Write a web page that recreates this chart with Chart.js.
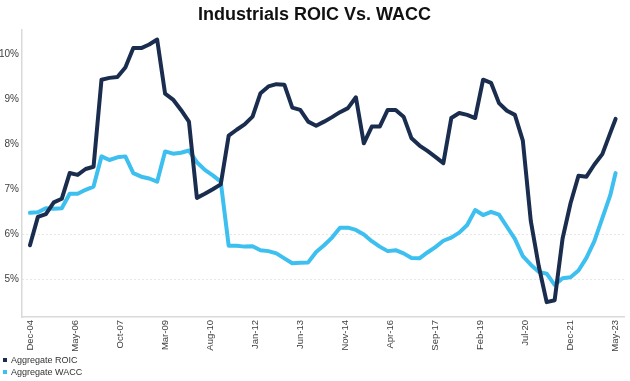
<!DOCTYPE html>
<html>
<head>
<meta charset="utf-8">
<script src="https://cdn.jsdelivr.net/npm/chart.js@4.4.0/dist/chart.umd.min.js"></script>
<style>
  html, body { margin: 0; padding: 0; background: #fff; }
  #wrap { position: relative; width: 630px; height: 381px; }
  #legend { position: absolute; left: 3px; top: 354px; font: 9px "Liberation Sans", Arial, sans-serif; color: #333; }
  #legend div { height: 12px; line-height: 12px; white-space: nowrap; }
  #legend span { display: inline-block; width: 4px; height: 4px; margin-right: 4px; vertical-align: middle; position: relative; top: -1px; }
</style>
</head>
<body>
<div id="wrap"><canvas id="chart" width="630" height="381"></canvas><div id="legend"></div></div>
<script>
// months counted from Dec-04 (0), quarterly, last point May-23
const months = [0, 3, 6, 9, 12, 15, 18, 21, 24, 27, 30, 33, 36, 39, 42, 45, 48, 51, 54, 57,
  60, 63, 66, 69, 72, 75, 78, 81, 84, 87, 90, 93, 96, 99, 102, 105, 108, 111, 114, 117,
  120, 123, 126, 129, 132, 135, 138, 141, 144, 147, 150, 153, 156, 159, 162, 165, 168, 171, 174, 177,
  180, 183, 186, 189, 192, 195, 198, 201, 204, 207, 210, 213, 216, 219, 221];

const roic = [5.76, 6.39, 6.45, 6.71, 6.79, 7.36, 7.32, 7.45, 7.50, 9.43, 9.47, 9.49, 9.70, 10.13, 10.13, 10.21, 10.32, 9.12, 8.99, 8.76,
  8.50, 6.81, 6.90, 7.00, 7.11, 8.19, 8.32, 8.44, 8.61, 9.13, 9.28, 9.33, 9.32, 8.81, 8.76, 8.50, 8.41, 8.50, 8.60, 8.71,
  8.80, 9.04, 8.02, 8.39, 8.39, 8.76, 8.76, 8.61, 8.13, 7.97, 7.85, 7.72, 7.58, 8.58, 8.69, 8.65, 8.58, 9.43, 9.36, 8.91,
  8.74, 8.65, 8.08, 6.30, 5.30, 4.50, 4.54, 5.91, 6.69, 7.30, 7.28, 7.55, 7.78, 8.25, 8.56];

const wacc = [6.48, 6.49, 6.58, 6.57, 6.58, 6.90, 6.90, 6.99, 7.06, 7.73, 7.65, 7.71, 7.73, 7.36, 7.28, 7.24, 7.17, 7.84, 7.79, 7.81,
  7.86, 7.60, 7.43, 7.31, 7.17, 5.75, 5.75, 5.73, 5.74, 5.65, 5.63, 5.58, 5.47, 5.36, 5.37, 5.38, 5.61, 5.76, 5.93, 6.15,
  6.15, 6.10, 6.00, 5.85, 5.73, 5.63, 5.65, 5.58, 5.48, 5.47, 5.60, 5.72, 5.86, 5.93, 6.04, 6.21, 6.54, 6.43, 6.50, 6.44,
  6.17, 5.90, 5.52, 5.33, 5.17, 5.13, 4.88, 5.03, 5.05, 5.20, 5.48, 5.85, 6.36, 6.87, 7.36];

const tickMonths = [0, 17, 34, 51, 68, 85, 102, 119, 136, 153, 170, 187, 204, 221];
const xLabels = ['Dec-04', 'May-06', 'Oct-07', 'Mar-09', 'Aug-10', 'Jan-12', 'Jun-13', 'Nov-14',
  'Apr-16', 'Sep-17', 'Feb-19', 'Jul-20', 'Dec-21', 'May-23'];
const yTicks = [5, 6, 7, 8, 9, 10];

const FONT = '"Liberation Sans", Arial, sans-serif';

function pts(vals) {
  return vals.map((v, i) => ({ x: months[i], y: v }));
}

const chart = new Chart(document.getElementById('chart').getContext('2d'), {
  type: 'line',
  data: {
    datasets: [
      {
        label: 'Aggregate ROIC',
        data: pts(roic),
        borderColor: '#1a2d4f',
        backgroundColor: '#1a2d4f',
        borderWidth: 4,
        borderJoinStyle: 'round',
        borderCapStyle: 'round',
        pointRadius: 0,
        tension: 0
      },
      {
        label: 'Aggregate WACC',
        data: pts(wacc),
        borderColor: '#3dbfef',
        backgroundColor: '#3dbfef',
        borderWidth: 4,
        borderJoinStyle: 'round',
        borderCapStyle: 'round',
        pointRadius: 0,
        tension: 0
      }
    ]
  },
  options: {
    responsive: false,
    animation: false,
    layout: { padding: { top: 0, right: 1, bottom: 30, left: 0 } },
    plugins: {
      legend: { display: false },
      tooltip: { enabled: false },
      title: {
        display: true,
        text: 'Industrials ROIC Vs. WACC',
        color: '#111',
        font: { family: FONT, size: 18, weight: 'bold' },
        padding: { top: 4, bottom: 4 }
      }
    },
    scales: {
      x: {
        type: 'linear',
        min: -3,
        max: 224.5,
        afterBuildTicks: s => { s.ticks = tickMonths.map(v => ({ value: v })); },
        afterFit: s => { s.height = 34; },
        grid: { display: false, drawTicks: false },
        border: { display: true, color: '#d9d9d9', width: 1.5 },
        ticks: {
          autoSkip: false,
          minRotation: 90,
          maxRotation: 90,
          padding: 3,
          color: '#404040',
          font: { family: FONT, size: 9.5 },
          callback: v => xLabels[tickMonths.indexOf(v)]
        }
      },
      y: {
        min: 4.17,
        max: 10.54,
        afterBuildTicks: s => { s.ticks = yTicks.map(v => ({ value: v })); },
        afterFit: s => { s.width = 22; },
        grid: {
          drawTicks: false,
          color: c => (c.tick && c.tick.value <= 6 ? '#cfcfcf' : 'rgba(0,0,0,0)'),
          lineWidth: 1
        },
        border: { display: true, color: '#d9d9d9', width: 1.5, dash: [1, 3] },
        ticks: {
          padding: 3,
          color: '#404040',
          font: { family: FONT, size: 10 },
          callback: v => v + '%'
        }
      }
    }
  }
});

// simple vertical legend under the axis
const legendEl = document.getElementById('legend');
chart.data.datasets.forEach(ds => {
  const row = document.createElement('div');
  const box = document.createElement('span');
  box.style.background = ds.borderColor;
  row.appendChild(box);
  row.appendChild(document.createTextNode(ds.label));
  legendEl.appendChild(row);
});
</script>
</body>
</html>
